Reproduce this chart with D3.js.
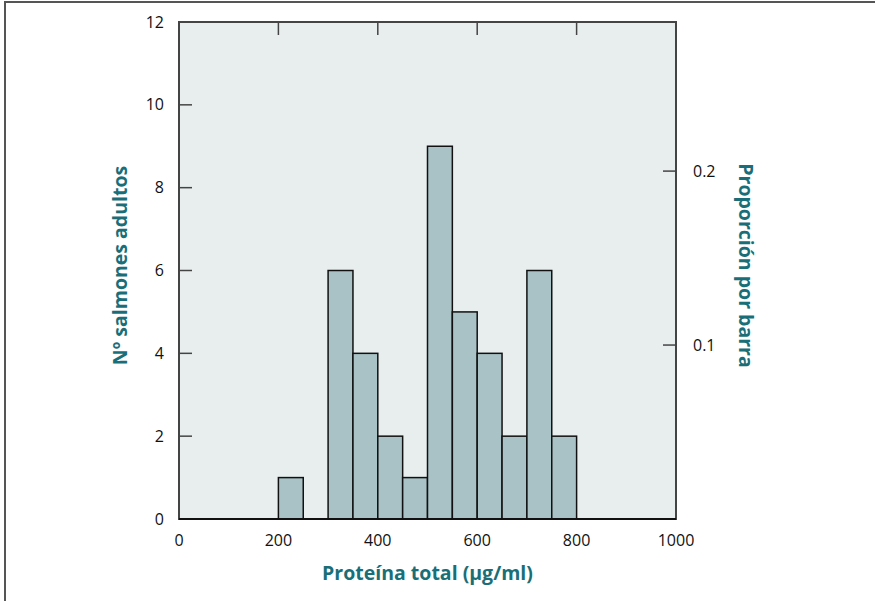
<!DOCTYPE html>
<html>
<head>
<meta charset="utf-8">
<script src="https://cdn.jsdelivr.net/npm/d3@7"></script>
<style>
  body { margin: 0; background: #fff; }
  svg { display: block; font-family: "Open Sans", "Noto Sans", sans-serif; }
</style>
</head>
<body>
<svg id="histo"></svg>
<script>
// bins of 50 µg/ml, counts per bar
const binStarts = [200, 250, 300, 350, 400, 450, 500, 550, 600, 650, 700, 750];
const counts = [1, 0, 6, 4, 2, 1, 9, 5, 4, 2, 6, 2];
const xTicks = [0, 200, 400, 600, 800, 1000];
const yTicks = [0, 2, 4, 6, 8, 10, 12];
const propTicks = [0.1, 0.2];
const binWidth = 50;

const W = 875, H = 601;
const margin = { top: 22, right: 199, bottom: 82, left: 179 },
  width = W - margin.left - margin.right,
  height = H - margin.top - margin.bottom;

const svgRoot = d3.select("#histo").attr("width", W).attr("height", H);

// outer frame (top and left lines only visible)
svgRoot.append("path")
  .attr("d", `M5,${H + 5} L5,2 L${W + 5},2`)
  .attr("fill", "none")
  .attr("stroke", "#555")
  .attr("stroke-width", 2);

const svg = svgRoot.append("g")
  .attr("transform", `translate(${margin.left},${margin.top})`);

const total = d3.sum(counts);

const x = d3.scaleLinear().domain([0, 1000]).range([0, width]);
const y = d3.scaleLinear().domain([0, 12]).range([height, 0]);
const yProp = d3.scaleLinear().domain([0, 12 / total]).range([height, 0]);

// plot background
svg.append("rect")
  .attr("width", width)
  .attr("height", height)
  .attr("fill", "#e8eeee");

// bars
svg.selectAll(".bar")
  .data(binStarts.map((b, i) => ({ x0: b, n: counts[i] })).filter((d) => d.n > 0))
  .join("rect")
  .attr("class", "bar")
  .attr("x", (d) => x(d.x0))
  .attr("y", (d) => y(d.n))
  .attr("width", (d) => x(d.x0 + binWidth) - x(d.x0))
  .attr("height", (d) => y(0) - y(d.n))
  .attr("fill", "#a9c2c6")
  .attr("stroke", "#111")
  .attr("stroke-width", 1.5);

// frame
svg.append("rect")
  .attr("width", width)
  .attr("height", height)
  .attr("fill", "none")
  .attr("stroke", "#444")
  .attr("stroke-width", 2);

svg.append("line")
  .attr("x1", 0).attr("x2", width)
  .attr("y1", height).attr("y2", height)
  .attr("stroke", "#111").attr("stroke-width", 2);

const tickLen = 13;
const tickColor = "#444";

// left axis: inner ticks + labels
const yAxis = svg.append("g");
yAxis.selectAll("line")
  .data(yTicks.filter((t) => t > 0 && t < 12))
  .join("line")
  .attr("x1", 0).attr("x2", tickLen)
  .attr("y1", (d) => y(d)).attr("y2", (d) => y(d))
  .attr("stroke", tickColor).attr("stroke-width", 1.5);
yAxis.selectAll("text")
  .data(yTicks)
  .join("text")
  .attr("x", -15)
  .attr("y", (d) => y(d))
  .attr("dy", "0.35em")
  .attr("text-anchor", "end")
  .attr("font-size", "16px")
  .attr("fill", "#111")
  .text((d) => d);

// top inner ticks
svg.append("g").selectAll("line")
  .data(xTicks.filter((t) => t > 0 && t < 1000))
  .join("line")
  .attr("x1", (d) => x(d)).attr("x2", (d) => x(d))
  .attr("y1", 0).attr("y2", tickLen)
  .attr("stroke", tickColor).attr("stroke-width", 1.5);

// bottom labels
svg.append("g").selectAll("text")
  .data(xTicks)
  .join("text")
  .attr("x", (d) => x(d))
  .attr("y", height + 21)
  .attr("dy", "0.35em")
  .attr("text-anchor", "middle")
  .attr("font-size", "16px")
  .attr("fill", "#111")
  .text((d) => d);

// right axis: proportion
const rAxis = svg.append("g");
rAxis.selectAll("line")
  .data(propTicks)
  .join("line")
  .attr("x1", width - tickLen).attr("x2", width)
  .attr("y1", (d) => yProp(d)).attr("y2", (d) => yProp(d))
  .attr("stroke", tickColor).attr("stroke-width", 1.5);
rAxis.selectAll("text")
  .data(propTicks)
  .join("text")
  .attr("x", width + 17)
  .attr("y", (d) => yProp(d))
  .attr("dy", "0.35em")
  .attr("text-anchor", "start")
  .attr("font-size", "16px")
  .attr("fill", "#111")
  .text((d) => d3.format(".1f")(d));

// axis titles
const titleColor = "#1a6e78";
svg.append("text")
  .attr("x", width / 2)
  .attr("y", height + 54)
  .attr("dy", "0.35em")
  .attr("text-anchor", "middle")
  .attr("font-size", "19.5px")
  .attr("font-weight", "bold")
  .attr("fill", titleColor)
  .text("Proteína total (µg/ml)");

svg.append("text")
  .attr("transform", `translate(-59,${height / 2 - 5}) rotate(-90)`)
  .attr("dy", "0.35em")
  .attr("text-anchor", "middle")
  .attr("font-size", "19.5px")
  .attr("font-weight", "bold")
  .attr("fill", titleColor)
  .text("Nº salmones adultos");

svg.append("text")
  .attr("transform", `translate(${width + 70},${height / 2 - 5}) rotate(90)`)
  .attr("dy", "0.35em")
  .attr("text-anchor", "middle")
  .attr("font-size", "19.5px")
  .attr("font-weight", "bold")
  .attr("fill", titleColor)
  .text("Proporción por barra");
</script>
</body>
</html>
